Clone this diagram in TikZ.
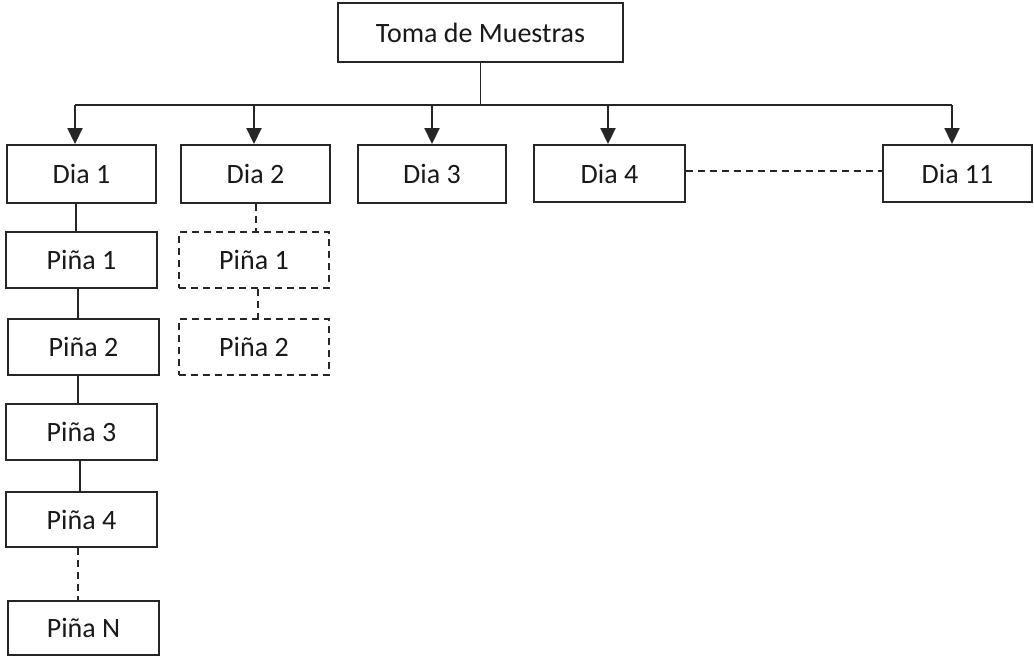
\documentclass[tikz,border=0pt]{standalone}
\usepackage{fontspec}
\setmainfont{Carlito}
\usetikzlibrary{arrows.meta}
\begin{document}
\begin{tikzpicture}[x=1pt,y=1pt,
  box/.style={draw=black!85, line width=1.9pt, fill=white, inner sep=0pt,
    font=\fontsize{28}{32}\selectfont, text=black!90},
  dbox/.style={box, dash pattern=on 7pt off 5pt},
  conn/.style={draw=black!85, line width=1.9pt},
  dconn/.style={conn, dash pattern=on 7pt off 5pt},
  arr/.style={conn, -{Triangle[length=16pt,width=15pt]}}]
\fill[white] (0,0) rectangle (1034,-656);
\useasboundingbox (0,0) rectangle (1034,-656);

\node[box, minimum width=285pt, minimum height=59pt] (toma) at (480.5,-32.5) {Toma de Muestras};

\node[box, minimum width=149pt, minimum height=58pt] (d1) at (81.5,-174) {Dia 1};
\node[box, minimum width=149pt, minimum height=58pt] (d2) at (255.5,-174) {Dia 2};
\node[box, minimum width=148pt, minimum height=58pt] (d3) at (432,-174) {Dia 3};
\node[box, minimum width=151pt, minimum height=57pt] (d4) at (609.5,-173.5) {Dia 4};
\node[box, minimum width=149pt, minimum height=57pt] (d11) at (957.5,-173.5) {Dia 11};

\node[box, minimum width=151pt, minimum height=56pt] (p1) at (81.5,-260) {Piña 1};
\node[box, minimum width=151pt, minimum height=56pt] (p2) at (83.5,-347) {Piña 2};
\node[box, minimum width=151pt, minimum height=56pt] (p3) at (81.5,-432) {Piña 3};
\node[box, minimum width=151pt, minimum height=55pt] (p4) at (81.5,-519.5) {Piña 4};
\node[box, minimum width=151pt, minimum height=54pt] (pN) at (83.5,-628) {Piña N};

\node[dbox, minimum width=150pt, minimum height=56pt] (q1) at (254,-260) {Piña 1};
\node[dbox, minimum width=150pt, minimum height=56pt] (q2) at (254,-347) {Piña 2};

% bus
\coordinate (bus) at (0,-105);
\draw[conn, line width=1.5pt] (toma.south) -- (toma.south |- bus);
\draw[conn] ([xshift=-6.5pt]d1.north |- bus) -- ([xshift=-5.5pt]d11.north |- bus);
\draw[arr] ([xshift=-6.5pt]d1.north |- bus) -- ([xshift=-6.5pt]d1.north);
\draw[arr] ([xshift=-1.5pt]d2.north |- bus) -- ([xshift=-1.5pt]d2.north);
\draw[arr] (d3.north |- bus) -- (d3.north);
\draw[arr] ([xshift=-1.5pt]d4.north |- bus) -- ([xshift=-1.5pt]d4.north);
\draw[arr] ([xshift=-5.5pt]d11.north |- bus) -- ([xshift=-5.5pt]d11.north);

\draw[dconn] ([yshift=2.5pt]d4.east) -- ([yshift=2.5pt]d11.west);

% column 1
\draw[conn] ([xshift=-5.5pt]d1.south) -- ([xshift=-5.5pt]p1.north);
\draw[conn] ([xshift=-3.5pt]p1.south) -- ([xshift=-5.5pt]p2.north);
\draw[conn] ([xshift=-5.5pt]p2.south) -- ([xshift=-3.5pt]p3.north);
\draw[conn] ([xshift=-1.5pt]p3.south) -- ([xshift=-1.5pt]p4.north);
\draw[dconn] ([xshift=-3.5pt]p4.south) -- ([xshift=-5.5pt]pN.north);

% column 2
\draw[dconn] ([xshift=0.5pt]d2.south) -- ([xshift=2pt]q1.north);
\draw[dconn] ([xshift=4pt]q1.south) -- ([xshift=4pt]q2.north);
\end{tikzpicture}
\end{document}
